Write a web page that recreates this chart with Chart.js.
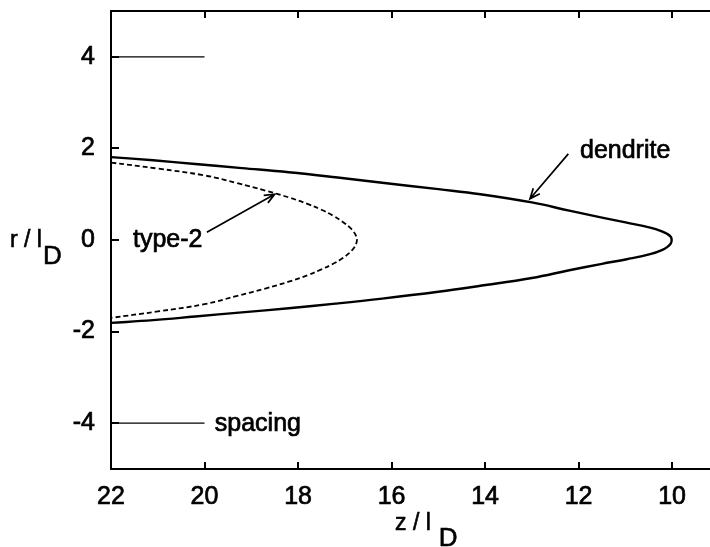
<!DOCTYPE html>
<html>
<head>
<meta charset="utf-8">
<title>Dendrite and type-2 profiles</title>
<script src="https://cdn.jsdelivr.net/npm/chart.js@4.4.0/dist/chart.umd.min.js"></script>
<style>
    body { margin: 0; background: #fff; }
    canvas { display: block; }
</style>
</head>
<body>
<canvas id="profileChart" width="710" height="547"></canvas>
<script>
// axis ticks
const xTicks = [22, 20, 18, 16, 14, 12, 10];
const yTicks = [-4, -2, 0, 2, 4];

// dendrite outline, from the tip back to z = 22
const dendriteZ = [10.01, 10.03, 10.1, 10.22, 10.47, 10.97, 11.5, 12.2, 13, 14.1, 15, 16.2, 17.2, 18.2, 19.2, 20.2, 21.1, 22];
const dendriteUpper = [0, 0.07, 0.13, 0.19, 0.27, 0.38, 0.49, 0.64, 0.82, 1.0, 1.11, 1.25, 1.37, 1.48, 1.57, 1.66, 1.74, 1.81];
const dendriteLower = [0, -0.08, -0.15, -0.22, -0.31, -0.42, -0.52, -0.66, -0.83, -1.0, -1.13, -1.28, -1.39, -1.49, -1.58, -1.67, -1.75, -1.81];

// type-2 outline
const type2Z = [16.74, 16.76, 16.81, 16.9, 17.05, 17.25, 17.5, 17.8, 18.2, 18.7, 19.3, 20, 21, 22];
const type2Upper = [0, 0.09, 0.18, 0.28, 0.4, 0.53, 0.66, 0.79, 0.93, 1.08, 1.24, 1.41, 1.56, 1.69];
const type2Lower = [0, -0.09, -0.18, -0.28, -0.4, -0.52, -0.64, -0.77, -0.91, -1.06, -1.22, -1.4, -1.56, -1.7];

// spacing markers
const spacingZ = [22, 20];
const spacingR = [4, -4];

function outline(z, upper, lower) {
    const pts = [];
    for (let i = z.length - 1; i >= 0; i--) pts.push({ x: z[i], y: upper[i] });
    for (let i = 1; i < z.length; i++) pts.push({ x: z[i], y: lower[i] });
    return pts;
}

const FONT = '"Liberation Sans", Arial, Helvetica, sans-serif';

// text labels and arrows, in data units
const notes = [
    { text: 'type-2', x: 21.53, y: 0, from: [19.95, 0.17], to: [18.5, 1.0] },
    { text: 'dendrite', x: 11.97, y: 1.95, from: [12.22, 1.88], to: [13.04, 0.9] },
    { text: 'spacing', x: 19.78, y: -4.02 }
];

function heavyText(ctx, text, px, py) {
    ctx.fillText(text, px, py);
    ctx.strokeText(text, px, py);
}

const framePlugin = {
    id: 'frame',
    afterDatasetsDraw(chart) {
        const { ctx, chartArea: a, scales: { x, y } } = chart;
        ctx.save();
        ctx.strokeStyle = '#000';
        ctx.lineWidth = 2;

        // top edge
        ctx.beginPath();
        ctx.moveTo(a.left, a.top);
        ctx.lineTo(a.right, a.top);
        ctx.stroke();

        // inward tick marks
        ctx.beginPath();
        xTicks.forEach(v => {
            const px = Math.round(x.getPixelForValue(v));
            if (px <= a.left + 1) return;
            ctx.moveTo(px, a.bottom);
            ctx.lineTo(px, a.bottom - 7);
            ctx.moveTo(px, a.top);
            ctx.lineTo(px, a.top + 7);
        });
        yTicks.forEach(v => {
            const py = Math.round(y.getPixelForValue(v));
            ctx.moveTo(a.left, py);
            ctx.lineTo(a.left + 8, py);
        });
        ctx.stroke();

        // labels and arrows
        ctx.fillStyle = '#000';
        ctx.font = '25px ' + FONT;
        ctx.textBaseline = 'middle';
        ctx.textAlign = 'left';
        notes.forEach(n => {
            ctx.lineWidth = 0.7;
            heavyText(ctx, n.text, x.getPixelForValue(n.x), y.getPixelForValue(n.y));
            if (!n.from) return;
            ctx.lineWidth = 1.7;
            const x0 = x.getPixelForValue(n.from[0]), y0 = y.getPixelForValue(n.from[1]);
            const x1 = x.getPixelForValue(n.to[0]), y1 = y.getPixelForValue(n.to[1]);
            const ang = Math.atan2(y1 - y0, x1 - x0);
            ctx.beginPath();
            ctx.moveTo(x0, y0);
            ctx.lineTo(x1, y1);
            ctx.moveTo(x1 - 11 * Math.cos(ang - 0.4), y1 - 11 * Math.sin(ang - 0.4));
            ctx.lineTo(x1, y1);
            ctx.lineTo(x1 - 11 * Math.cos(ang + 0.4), y1 - 11 * Math.sin(ang + 0.4));
            ctx.stroke();
        });

        // axis titles with subscript D
        ctx.lineWidth = 0.6;
        ctx.textBaseline = 'alphabetic';
        ctx.font = '23px ' + FONT;
        heavyText(ctx, 'r / l', 10, 247);
        let w = ctx.measureText('r / l').width;
        ctx.font = '26px ' + FONT;
        heavyText(ctx, 'D', 10 + w + 1, 264);

        ctx.font = '23px ' + FONT;
        heavyText(ctx, 'z / l', 395, 530);
        w = ctx.measureText('z / l').width;
        ctx.font = '26px ' + FONT;
        heavyText(ctx, 'D', 395 + w + 8, 546);
        ctx.restore();
    }
};

const ctx = document.getElementById('profileChart').getContext('2d');

new Chart(ctx, {
    type: 'scatter',
    data: {
        datasets: [
            {
                label: 'dendrite',
                data: outline(dendriteZ, dendriteUpper, dendriteLower),
                showLine: true,
                borderColor: '#000',
                borderWidth: 2.4,
                pointRadius: 0,
                tension: 0.4
            },
            {
                label: 'type-2',
                data: outline(type2Z, type2Upper, type2Lower),
                showLine: true,
                borderColor: '#000',
                borderWidth: 1.8,
                borderDash: [5, 3],
                pointRadius: 0,
                tension: 0.4
            },
            {
                label: 'spacing top',
                data: spacingZ.map(z => ({ x: z, y: spacingR[0] })),
                showLine: true,
                borderColor: '#000',
                borderWidth: 1.3,
                pointRadius: 0
            },
            {
                label: 'spacing bottom',
                data: spacingZ.map(z => ({ x: z, y: spacingR[1] })),
                showLine: true,
                borderColor: '#000',
                borderWidth: 1.3,
                pointRadius: 0
            }
        ]
    },
    options: {
        responsive: false,
        animation: false,
        layout: { padding: { top: 11, left: 0, right: 0, bottom: 0 } },
        plugins: {
            legend: { display: false },
            tooltip: { enabled: false }
        },
        scales: {
            x: {
                type: 'linear',
                reverse: true,
                min: 9.19,
                max: 22,
                afterFit: s => {
                    s.height = 78;
                    s.paddingLeft = 0;
                    s.paddingRight = 0;
                },
                afterBuildTicks: s => { s.ticks = xTicks.map(v => ({ value: v })); },
                grid: { drawOnChartArea: false, drawTicks: false },
                border: { display: true, color: '#000', width: 2 },
                ticks: {
                    padding: 13,
                    color: '#000',
                    textStrokeColor: '#000',
                    textStrokeWidth: 0.7,
                    font: { family: FONT, size: 25 },
                    maxRotation: 0,
                    autoSkip: false
                }
            },
            y: {
                type: 'linear',
                min: -5,
                max: 5,
                afterFit: s => {
                    s.width = 111;
                    s.paddingTop = 0;
                    s.paddingBottom = 0;
                },
                afterBuildTicks: s => { s.ticks = yTicks.map(v => ({ value: v })); },
                grid: { drawOnChartArea: false, drawTicks: false },
                border: { display: true, color: '#000', width: 2 },
                ticks: {
                    padding: 16,
                    color: '#000',
                    textStrokeColor: '#000',
                    textStrokeWidth: 0.7,
                    font: { family: FONT, size: 25 },
                    autoSkip: false
                }
            }
        }
    },
    plugins: [framePlugin]
});
</script>
</body>
</html>
